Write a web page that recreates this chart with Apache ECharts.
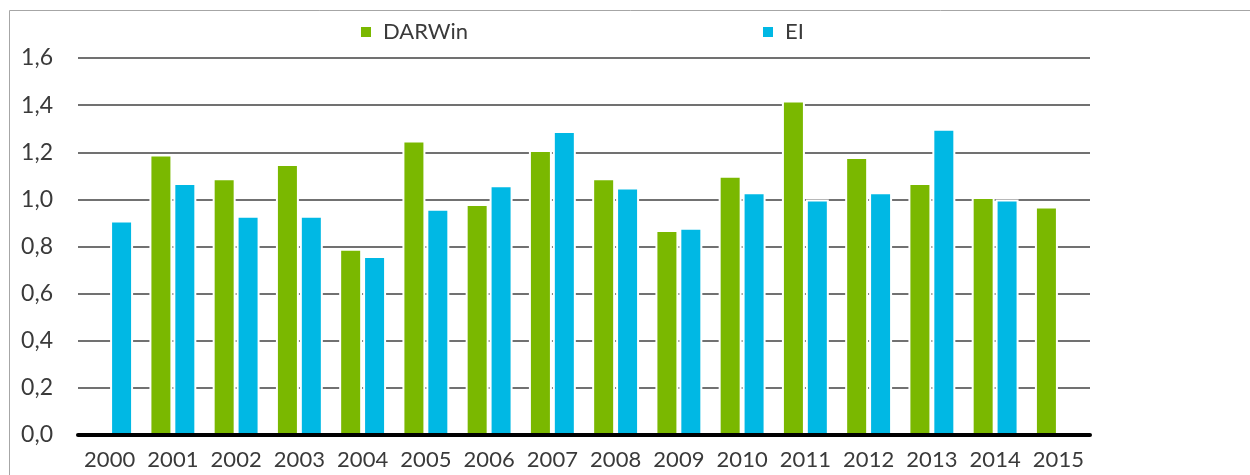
<!DOCTYPE html>
<html>
<head>
<meta charset="utf-8">
<script src="https://cdn.jsdelivr.net/npm/echarts@6/dist/echarts.min.js"></script>
<style>
  html, body { margin: 0; padding: 0; background: #fff; }
  #chart { width: 1250px; height: 475px; }
</style>
</head>
<body>
<div id="chart"></div>
<script>
// Years on the category axis
const years = ['2000','2001','2002','2003','2004','2005','2006','2007',
               '2008','2009','2010','2011','2012','2013','2014','2015'];
// Index values per year ('-' = no value)
const darwin = ['-', 1.19, 1.09, 1.15, 0.79, 1.25, 0.98, 1.21,
                1.09, 0.87, 1.10, 1.42, 1.18, 1.07, 1.01, 0.97];
const ei     = [0.91, 1.07, 0.93, 0.93, 0.76, 0.96, 1.06, 1.29,
                1.05, 0.88, 1.03, 1.00, 1.03, 1.30, 1.00, '-'];
// Value axis range and step
const yMin = 0, yMax = 1.6, yStep = 0.2;

const FONT = 'Lato';
const TEXT = '#3a3a3a';
const GREEN = '#7ab800';
const BLUE = '#00b8e4';

const chart = echarts.init(document.getElementById('chart'), null, { renderer: 'canvas' });

const legendText = { fontFamily: FONT, fontSize: 22, color: TEXT, padding: [0, 0, 0, 6] };

chart.setOption({
  animation: false,
  backgroundColor: '#fff',
  graphic: [{
    type: 'rect',
    shape: { x: 9.5, y: 10.5, width: 1300, height: 500 },
    style: { fill: 'none', stroke: '#a6a6a6', lineWidth: 1 },
    silent: true
  }],
  legend: [
    {
      data: ['DARWin'], left: 359, top: 21, padding: 0,
      itemWidth: 12, itemHeight: 12, itemGap: 0,
      icon: 'rect',
      textStyle: legendText
    },
    {
      data: ['EI'], left: 761, top: 21, padding: 0,
      itemWidth: 12, itemHeight: 12, itemGap: 0,
      icon: 'rect',
      textStyle: legendText
    }
  ],
  grid: { left: 78, right: 160, top: 58, bottom: 40, containLabel: false },
  xAxis: {
    type: 'category',
    data: years,
    z: 10,
    axisLine: { show: true, lineStyle: { color: '#000', width: 4 } },
    axisTick: { show: false },
    axisLabel: { interval: 0, fontFamily: FONT, fontSize: 22, color: TEXT, margin: 14 },
    splitLine: { show: false }
  },
  yAxis: {
    type: 'value',
    min: yMin, max: yMax, interval: yStep,
    axisLine: { show: false },
    axisTick: { show: false },
    axisLabel: {
      fontFamily: FONT, fontSize: 23, color: TEXT, margin: 25,
      formatter: v => v.toFixed(1).replace('.', ',')
    },
    splitLine: { show: true, lineStyle: { color: '#717171', width: 2 } }
  },
  series: [
    {
      name: 'DARWin', type: 'bar', data: darwin,
      barWidth: 23, barGap: '4%',
      itemStyle: { color: GREEN, borderColor: '#fff', borderWidth: 2 }
    },
    {
      name: 'EI', type: 'bar', data: ei,
      barWidth: 23,
      itemStyle: { color: BLUE, borderColor: '#fff', borderWidth: 2 }
    }
  ]
});
</script>
</body>
</html>
